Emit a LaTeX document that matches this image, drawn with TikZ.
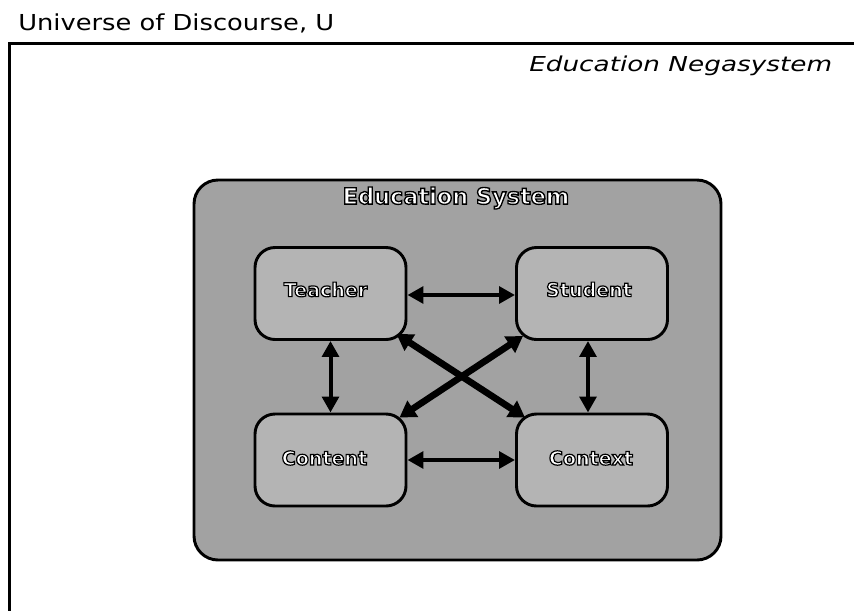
\documentclass[tikz,border=0pt]{standalone}
\usepackage{fontspec}
\usetikzlibrary{arrows.meta,calc}
\newfontfamily\titlefont[FakeStretch=1.17]{DejaVu Sans}
\newfontfamily\negafont[FakeStretch=1.28]{DejaVu Sans}
\newfontfamily\lblfont{DejaVu Sans}
\definecolor{sysgray}{HTML}{A2A2A2}
\definecolor{boxgray}{HTML}{B4B4B4}
\newcommand\olt[2][0.9]{\leavevmode\textcolor{white}{\special{pdf:literal direct 2 Tr #1 w 0 0 0 RG}#2\special{pdf:literal direct 0 Tr}}}
\tikzset{
  frameline/.style={line width=2.25pt},
  sysbox/.style={draw, line width=2.2pt, fill=sysgray, rounded corners=18pt,
    minimum width=527*0.75pt, minimum height=380*0.75pt, inner sep=0pt},
  elembox/.style={draw, line width=2.2pt, fill=boxgray, rounded corners=15pt,
    minimum width=151*0.75pt, minimum height=92*0.75pt, inner sep=0pt},
  elemlbl/.style={inner sep=0pt, font=\lblfont\bfseries\fontsize{14.3}{16}\selectfont},
  syslbl/.style={inner sep=0pt, font=\lblfont\bfseries\fontsize{16.8}{18}\selectfont},
  thinarrow/.style={line width=3pt, {Triangle[length=12pt,width=12.5pt]}-{Triangle[length=12pt,width=12.5pt]}},
  thickarrow/.style={line width=5pt, {Triangle[length=12pt,width=14pt]}-{Triangle[length=12pt,width=14pt]}},
}
\begin{document}
\begin{tikzpicture}[x=0.75pt, y=-0.75pt]
\useasboundingbox[fill=white] (0,0) rectangle (854,611);
% frame
\coordinate (fr) at (854,43);
\coordinate (fc) at (9.5,43);
\coordinate (fb) at (9.5,611);
\draw[frameline] (fr) -- (fc) -- (fb);
\node[anchor=base west, inner sep=0pt, font=\titlefont\fontsize{16.5}{18}\selectfont] (universe) at (18,30) {Universe of Discourse, U};
\node[anchor=base west, inner sep=0pt, font=\negafont\itshape\fontsize{15.4}{17}\selectfont] (nega) at (529,71) {Education Negasystem};
% system box
\node[sysbox] (system) at (457.5,370) {};
\node[syslbl] (systemlbl) at (456,198) {\olt[1.0]{Education System}};
% element boxes
\node[elembox] (teacher) at (330.5,293.5) {};
\node[elembox] (student) at (592,293.5) {};
\node[elembox] (content) at (330.5,460) {};
\node[elembox] (context) at (592,460) {};
\node[elemlbl] (teacherlbl) at ($(teacher)+(-5,-4)$) {\olt{Teacher}};
\node[elemlbl] (studentlbl) at ($(student)+(-3,-4)$) {\olt{Student}};
\node[elemlbl] (contentlbl) at ($(content)+(-6,-2)$) {\olt{Content}};
\node[elemlbl] (contextlbl) at ($(context)+(-1,-2)$) {\olt{Context}};
% arrows
\draw[thinarrow] (teacher.east |- 0,295) -- (student.west |- 0,295);
\draw[thinarrow] (content.east |- 0,460) -- (context.west |- 0,460);
\draw[thinarrow] (teacher.south) -- (content.north);
\draw[thinarrow] ($(student.south)+(-4,0)$) -- ($(context.north)+(-4,0)$);
\coordinate (tse) at ($(teacher.south east)+(-11,-7)$);
\coordinate (cnw) at ($(context.north west)+(10,5)$);
\coordinate (ssw) at ($(student.south west)+(8,-5)$);
\coordinate (cne) at ($(content.north east)+(-8,5)$);
\draw[thickarrow] (tse) -- (cnw);
\draw[thickarrow] (ssw) -- (cne);
\end{tikzpicture}
\end{document}
